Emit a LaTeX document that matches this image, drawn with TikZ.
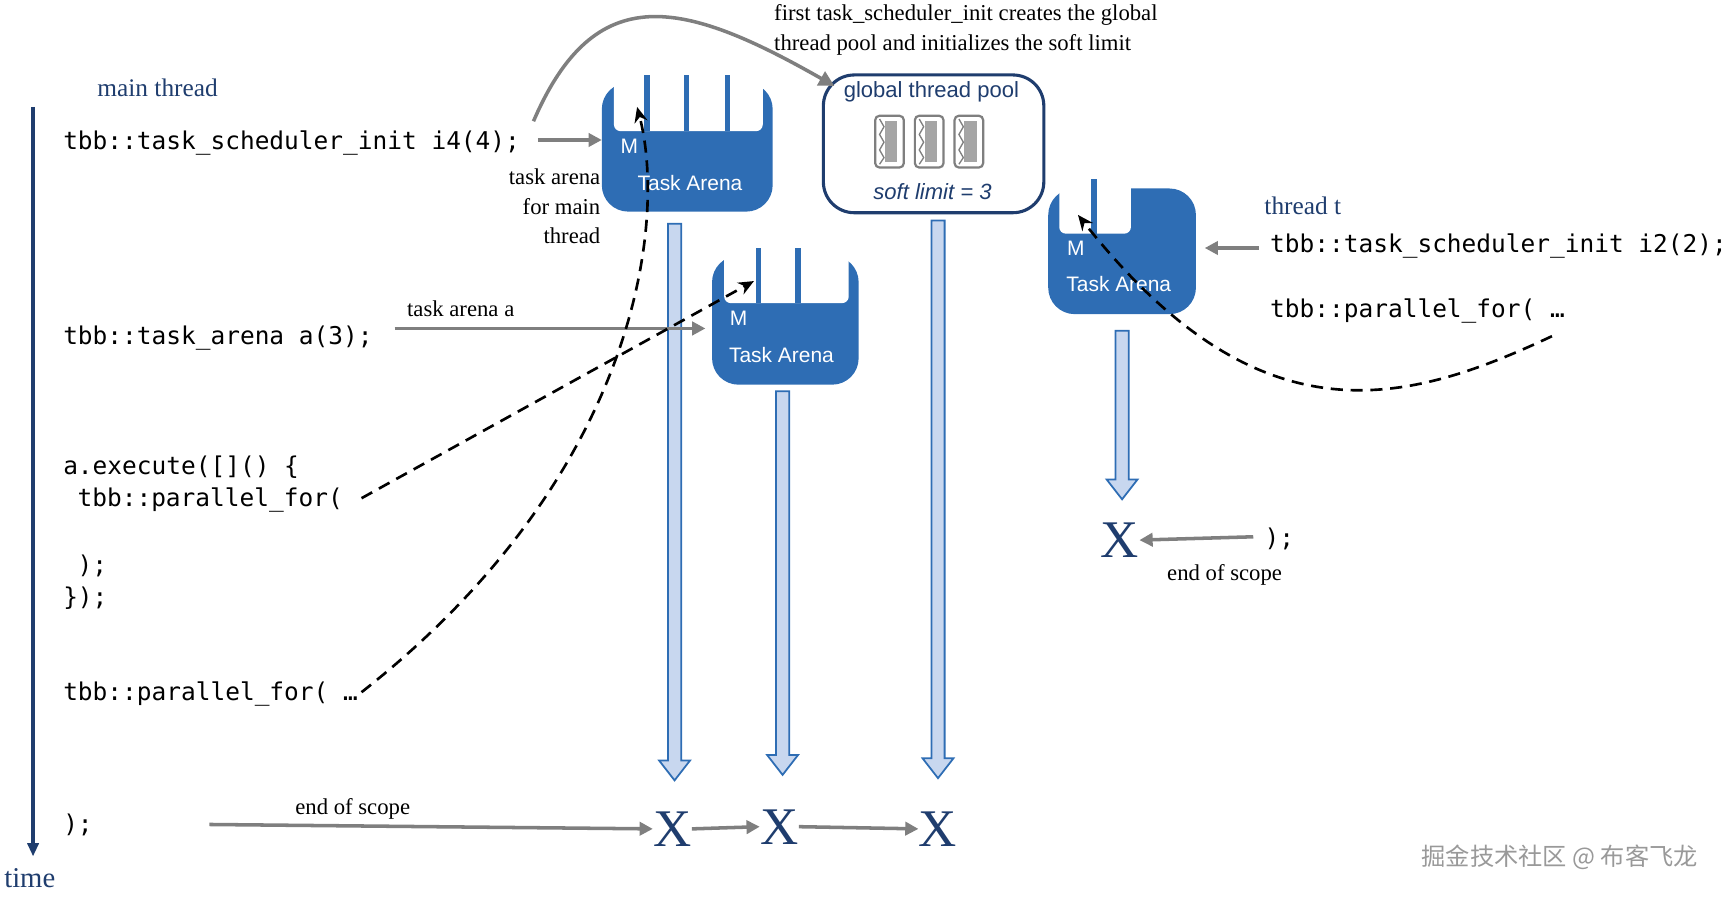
\documentclass[tikz,border=0pt]{standalone}
\usepackage{fontspec}
\setmainfont{Liberation Serif}
\setsansfont{Liberation Sans}
\setmonofont{DejaVu Sans Mono}
\newfontfamily\cjk{Noto Sans CJK SC}
\usetikzlibrary{arrows.meta}
\definecolor{arena}{HTML}{2E6DB4}
\definecolor{dblue}{HTML}{1F3D6E}
\definecolor{lblue}{HTML}{C8D7EF}
\definecolor{gry}{HTML}{7F7F7F}
\begin{document}
\begin{tikzpicture}[x=0.5pt,y=-0.5pt,
  code/.style={font=\ttfamily\fontsize{11.1}{12}\selectfont,anchor=west,inner sep=0},
  lbl/.style={font=\fontsize{10.3}{13.4}\selectfont,inner sep=0},
  blbl/.style={font=\fontsize{11.5}{13}\selectfont,text=dblue,inner sep=0},
  garrow/.style={draw=gry,line width=1.6pt,-{Triangle[length=6pt,width=6pt]}},
  dsh/.style={draw=black,line width=1.2pt,dash pattern=on 5.5pt off 3.5pt,-{Stealth[length=7pt,width=6pt]}},
  ar/.style={font=\sffamily\fontsize{9.5}{11}\selectfont,text=white,inner sep=0},
  bigx/.style={font=\fontsize{24}{26}\selectfont,text=dblue,inner sep=0},
  larrow/.style={draw=arena,fill=lblue,line width=0.8pt},
  thr/.style={draw=gry,line width=1pt,rounded corners=2pt,fill=white}]
\useasboundingbox (0,0) rectangle (1565,813);

% time axis
\coordinate (t0) at (30,97); \coordinate (t1) at (30,777);
\draw[dblue,line width=1.6pt,-{Triangle[length=6pt,width=5pt]}] (t0) -- (t1);
\node[blbl,font=\fontsize{13}{14}\selectfont] (time) at (27,797) {time};
\node[blbl] (mt) at (143,80) {main thread};

% code left
\node[code] (c1) at (57,130) {tbb::task\_scheduler\_init i4(4);};
\node[code] (c2) at (57,307) {tbb::task\_arena a(3);};
\node[code] (c3) at (57,424) {a.execute([]() \{};
\node[code] (c4) at (70,454) {tbb::parallel\_for(};
\node[code] (c5) at (70,513) {);};
\node[code] (c6) at (57,543) {\});};
\node[code] (c7) at (57,630) {tbb::parallel\_for( …};
\node[code] (c8) at (57,748) {);};

% arena 1
\fill[arena,rounded corners=12pt] (546,75) rectangle (701,192);
\fill[white,rounded corners=3pt] (557,60) rectangle (692,119);
\foreach \x in {587,623,660} \fill[arena] (\x-2.5,68) rectangle (\x+2.5,119);
\node[ar] (m1) at (571,133) {M};
\node[ar] (ta1) at (626,166) {Task Arena};
\coordinate (A1) at (546,127);
% arena 2
\fill[arena,rounded corners=12pt] (646,232) rectangle (779,349);
\fill[white,rounded corners=3pt] (657,217) rectangle (770,275);
\foreach \x in {688,724} \fill[arena] (\x-2.5,225) rectangle (\x+2.5,275);
\node[ar] (m2) at (670,289) {M};
\node[ar] (ta2) at (709,322) {Task Arena};
\coordinate (A2) at (640,298);
% arena 3
\fill[arena,rounded corners=12pt] (951,171) rectangle (1085,285);
\fill[white,rounded corners=3pt] (961,154) rectangle (1026,212);
\fill[arena] (990,162) rectangle (995,212);
\node[ar] (m3) at (976,225) {M};
\node[ar] (ta3) at (1015,258) {Task Arena};
\coordinate (A3) at (1093,225);

% global pool
\node[draw=dblue,line width=1.4pt,rounded corners=14pt,minimum width=100pt,minimum height=62.5pt,fill=white] (pool) at (847,130.5) {};
\node[font=\sffamily\fontsize{10}{11}\selectfont,text=dblue,inner sep=0] (gtp) at (845,83) {global thread pool};
\node[font=\sffamily\itshape\fontsize{10}{11}\selectfont,text=dblue,inner sep=0] (sl) at (846,174) {soft limit = 3};
\foreach \x in {807,843,879}{
  \draw[thr] (\x-13,105) rectangle (\x+13,152);
  \fill[gry!70] (\x-4,110) rectangle (\x+7,147);
  \draw[gry,line width=0.6pt] (\x-9,108)--(\x-5,115)--(\x-9,122)--(\x-5,129)--(\x-9,136)--(\x-5,143)--(\x-9,149);
}

% light arrows
\foreach \x/\a/\b in {612/203/708,710/355/703,851/200/706,1018/300/453}{
  \draw[larrow] (\x-6,\a) -- (\x+6,\a) -- (\x+6,\b-18) -- (\x+14,\b-18) -- (\x,\b) -- (\x-14,\b-18) -- (\x-6,\b-18) -- cycle;
}

% X's
\node[bigx] (x1) at (610,752) {X};
\node[bigx] (x2) at (707,750) {X};
\node[bigx] (x3) at (851,752) {X};
\node[bigx] (x4) at (1016,490) {X};

% grey arrows
\coordinate (g1s) at (488,127);
\draw[garrow] (g1s) -- (A1);
\coordinate (g2s) at (358,298);
\draw[garrow] (g2s) -- (A2);
\node[lbl] (tla) at (418,280) {task arena a};
\coordinate (es) at (190,748);
\draw[garrow] (es) -- (x1.west);
\node[lbl] (eos1) at (320,734) {end of scope};
\draw[garrow] (x1.east) -- (x2.west);
\draw[garrow] (x2.east) -- (x3.west);
\node[lbl,align=right,anchor=north east] (tam) at (545,153) {task arena\\for main\\thread};

% top curve
\coordinate (cs) at (484,110);
\draw[draw=gry,line width=1.6pt,-{Triangle[length=7pt,width=7pt]}] (cs) .. controls (540,-20) and (620,0) .. (757,78);
\node[lbl,align=left,anchor=north west] (ftxt) at (702,4) {first task\_scheduler\_init creates the global\\thread pool and initializes the soft limit};

% thread t
\node[blbl] (tt) at (1182,187) {thread t};
\node[code] (c9) at (1152,223) {tbb::task\_scheduler\_init i2(2);};
\node[code] (c10) at (1152,282) {tbb::parallel\_for( …};
\coordinate (g3s) at (1142,225);
\draw[garrow] (g3s) -- (A3);
\node[code] (c11) at (1147,489) {);};
\coordinate (g4s) at (1137,487);
\draw[garrow] (g4s) -- (x4.east);
\node[lbl] (eos2) at (1111,522) {end of scope};

% dashed
\coordinate (d1s) at (328,452); \coordinate (d1e) at (684,255);
\draw[dsh] (d1s) -- (d1e);
\coordinate (d2s) at (328,628); \coordinate (d2e) at (578,97);
\draw[dsh] (d2s) .. controls (580,430) and (605,200) .. (d2e);
\coordinate (d3s) at (1408,305); \coordinate (d3e) at (978,195);
\draw[dsh] (d3s) .. controls (1270,370) and (1140,400) .. (d3e);

\node[font=\cjk\fontsize{11}{12}\selectfont,text=gray!80,inner sep=0] (wm) at (1415,778) {掘金技术社区 @ 布客飞龙};
\end{tikzpicture}
\end{document}
